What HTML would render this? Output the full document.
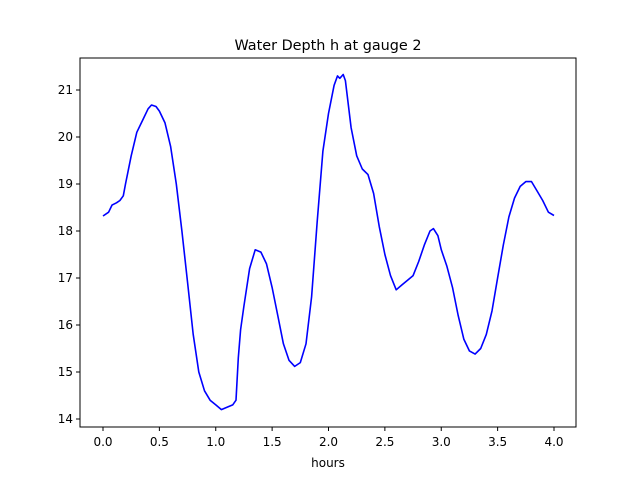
<!DOCTYPE html>
<html><head><meta charset="utf-8"><style>
body{margin:0;background:#fff;font-family:"Liberation Sans","DejaVu Sans",sans-serif;}
svg text{font-family:"DejaVu Sans","Liberation Sans",sans-serif;font-size:12px;fill:#000}
</style></head><body>
<svg id="chart" width="640" height="480" xmlns="http://www.w3.org/2000/svg">
<rect width="640" height="480" fill="#fff"/>
<text x="328" y="50" text-anchor="middle" style="font-size:14.4px">Water Depth h at gauge 2</text>
<g id="ticks"></g>
<path id="line" fill="none" stroke="#0000ff" stroke-width="1.6" stroke-linejoin="round"/>
<rect x="80" y="58" width="496" height="369" fill="none" stroke="#000" stroke-width="1"/>
<text x="328" y="467" text-anchor="middle">hours</text>
</svg>
<script>
const times=[0,0.05,0.08,0.12,0.15,0.18,0.2,0.25,0.3,0.35,0.4,0.43,0.47,0.5,0.55,0.6,0.65,0.7,0.75,0.8,0.85,0.9,0.95,1.0,1.05,1.1,1.15,1.18,1.2,1.22,1.25,1.3,1.35,1.4,1.45,1.5,1.55,1.6,1.65,1.7,1.75,1.8,1.85,1.9,1.95,2.0,2.05,2.08,2.1,2.13,2.15,2.2,2.25,2.3,2.35,2.4,2.45,2.5,2.55,2.6,2.65,2.7,2.75,2.8,2.85,2.9,2.93,2.97,3.0,3.05,3.1,3.15,3.2,3.25,3.3,3.35,3.4,3.45,3.5,3.55,3.6,3.65,3.7,3.75,3.8,3.85,3.9,3.95,4.0];
const depths=[18.32,18.4,18.55,18.6,18.65,18.75,19.0,19.6,20.1,20.35,20.6,20.68,20.65,20.55,20.3,19.8,19.0,18.0,16.9,15.8,15.0,14.6,14.4,14.3,14.2,14.25,14.3,14.4,15.3,15.9,16.4,17.2,17.6,17.55,17.3,16.8,16.2,15.6,15.25,15.12,15.2,15.6,16.6,18.2,19.7,20.5,21.1,21.3,21.25,21.33,21.2,20.2,19.6,19.32,19.2,18.8,18.1,17.5,17.05,16.75,16.85,16.95,17.05,17.35,17.7,18.0,18.05,17.9,17.6,17.25,16.8,16.2,15.7,15.45,15.38,15.5,15.8,16.3,17.0,17.7,18.3,18.7,18.95,19.05,19.05,18.85,18.65,18.4,18.33];
const xTicks=[0,0.5,1,1.5,2,2.5,3,3.5,4];
const yTicks=[14,15,16,17,18,19,20,21];
const xs=t=>103+t*112.75;
const ys=h=>419-(h-14)*47;
const g=document.getElementById('ticks');
const NS='http://www.w3.org/2000/svg';
xTicks.forEach(v=>{
 const l=document.createElementNS(NS,'line');
 
 
 l.setAttribute('x1',xs(v));l.setAttribute('x2',xs(v));l.setAttribute('y1',427);l.setAttribute('y2',431);l.setAttribute('stroke','#000');
 g.appendChild(l);
 const t=document.createElementNS(NS,'text');
 
 
 t.setAttribute('x',xs(v));t.setAttribute('y',446);t.setAttribute('text-anchor','middle');
 t.textContent=v.toFixed(1);g.appendChild(t);
});
yTicks.forEach(v=>{
 const l=document.createElementNS(NS,'line');
 
 
 l.setAttribute('x1',76);l.setAttribute('x2',80);l.setAttribute('y1',ys(v));l.setAttribute('y2',ys(v));l.setAttribute('stroke','#000');
 g.appendChild(l);
 const t=document.createElementNS(NS,'text');
 
 
 t.setAttribute('x',73);t.setAttribute('y',ys(v)+4);t.setAttribute('text-anchor','end');
 t.textContent=v;g.appendChild(t);
});
document.getElementById('line').setAttribute('d',times.map((t,i)=>(i?'L':'M')+xs(t).toFixed(1)+','+ys(depths[i]).toFixed(1)).join(''));
</script>
</body></html>
